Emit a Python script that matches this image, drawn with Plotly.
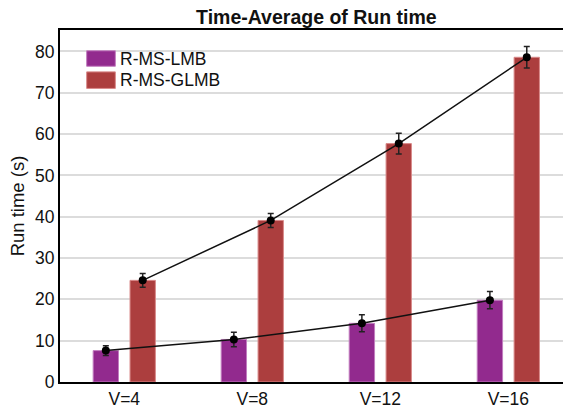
import plotly.graph_objects as go

# Data
categories = ["V=4", "V=8", "V=12", "V=16"]
series_names = ["R-MS-LMB", "R-MS-GLMB"]
lmb_time = [7.6, 10.3, 14.2, 19.8]
lmb_err = [1.2, 1.75, 2.05, 2.1]
glmb_time = [24.6, 39.1, 57.7, 78.6]
glmb_err = [1.65, 1.7, 2.5, 2.6]

# Styling
PURPLE = "#922A8E"
RED = "#AC3E3E"
PURPLE_EDGE = "#C27DBF"
RED_EDGE = "#D98A8A"
FONT = "Liberation Sans, Arial, sans-serif"
BAR_W = 0.198
OFFSET = 0.144

idx = list(range(len(categories)))
x_lmb = [i - OFFSET for i in idx]
x_glmb = [i + OFFSET for i in idx]

fig = go.Figure()

for xs, ys, col, edge, name in [
    (x_lmb, lmb_time, PURPLE, PURPLE_EDGE, series_names[0]),
    (x_glmb, glmb_time, RED, RED_EDGE, series_names[1]),
]:
    fig.add_trace(go.Bar(
        x=xs, y=ys, width=BAR_W, name=name,
        marker=dict(color=col, line=dict(color=edge, width=1)),
        showlegend=False,
    ))

for xs, ys, errs in [(x_lmb, lmb_time, lmb_err), (x_glmb, glmb_time, glmb_err)]:
    fig.add_trace(go.Scatter(
        x=xs, y=ys, mode="lines+markers",
        line=dict(color="#111111", width=1.5),
        marker=dict(color="black", size=8),
        error_y=dict(type="data", array=errs, visible=True,
                     color="#222222", thickness=1.5, width=3),
        showlegend=False,
    ))

# Legend swatches and labels (paper coordinates)
legend_rows = [(series_names[0], PURPLE, PURPLE_EDGE, 0.897, 0.941),
               (series_names[1], RED, RED_EDGE, 0.834, 0.881)]
for label, col, edge, y0, y1 in legend_rows:
    fig.add_shape(type="rect", xref="paper", yref="paper",
                  x0=0.053, x1=0.110, y0=y0, y1=y1,
                  fillcolor=col, line=dict(color=edge, width=1))
    fig.add_annotation(xref="paper", yref="paper", x=0.116, y=(y0 + y1) / 2,
                       text=label, showarrow=False, xanchor="left",
                       yanchor="middle",
                       font=dict(family=FONT, size=17.5, color="#111111"))

fig.update_layout(
    width=563, height=409,
    margin=dict(l=60, r=0, t=30, b=27),
    plot_bgcolor="white", paper_bgcolor="white",
    title=dict(text="<b>Time-Average of Run time</b>",
               x=0.562, xanchor="center", xref="container",
               y=1 - 17.5 / 409, yanchor="middle", yref="container",
               font=dict(family=FONT, size=19.5, color="#111111")),
    font=dict(family=FONT, color="#111111"),
    xaxis=dict(
        range=[-0.502, 3.427],
        tickvals=idx, ticktext=categories,
        tickfont=dict(size=17.5, color="#111111"),
        showgrid=False, zeroline=False,
        showline=True, linecolor="black", linewidth=2, mirror=True,
        ticks="",
    ),
    yaxis=dict(
        range=[0, 85.2],
        tickvals=[0, 10, 20, 30, 40, 50, 60, 70, 80],
        tickfont=dict(size=17.5, color="#111111"),
        showgrid=True, gridcolor="#DCDCDC", gridwidth=2,
        zeroline=False,
        showline=True, linecolor="black", linewidth=2,
        ticks="",
        title=dict(text="Run time (s)", font=dict(size=18.5, color="#111111"),
                   standoff=6),
    ),
    showlegend=False,
)

fig.write_html("out.html")
